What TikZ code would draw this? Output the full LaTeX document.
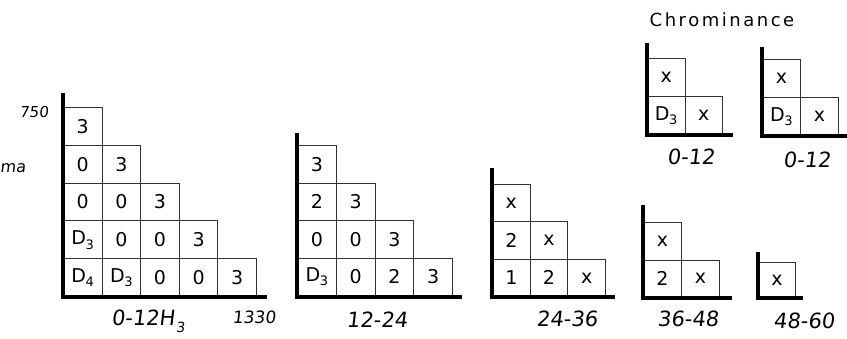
\documentclass[tikz,border=0pt]{standalone}
\usepackage{fontspec}
\newfontfamily\hand[FakeSlant=0.12]{DejaVu Sans}
\newfontfamily\handup{DejaVu Sans}
\newfontfamily\handsp[LetterSpace=14]{DejaVu Sans}
\newcommand\Dn[1]{D\kern-0.02em\raisebox{-0.45ex}{\fontsize{13}{13}\selectfont #1}}
\tikzset{
  cell/.style={draw=black!80, line width=0.9pt, anchor=south west, inner sep=0pt,
    font=\handup\fontsize{19}{19}\selectfont},
  axis/.style={line width=3.5pt, line join=miter},
  lbl/.style={font=\hand\fontsize{21}{21}\selectfont, inner sep=0pt},
  small/.style={font=\hand\fontsize{15}{15}\selectfont, inner sep=0pt}
}
\begin{document}
\begin{tikzpicture}[x=1pt,y=-1pt]
\useasboundingbox (0,0) rectangle (847,339);

% ---- chart 1 : 0-12 H3
\foreach \r/\c/\t in {1/1/3, 2/1/0, 2/2/3, 3/1/0, 3/2/0, 3/3/3,
  4/1/{\Dn{3}}, 4/2/0, 4/3/0, 4/4/3,
  5/1/{\Dn{4}}, 5/2/{\Dn{3}}, 5/3/0, 5/4/0, 5/5/3}
  \node[cell, minimum width=38.6pt, minimum height=37.8pt] (a-\r-\c)
    at ({63+(\c-1)*38.6},{297-(5-\r)*37.8}) {\t};
\coordinate (a-top) at (63,93);
\coordinate (a-end) at (267,297);
\draw[axis] (a-top) |- (a-end);
\node[small] (a750) at (34,112) {750};
\node[small, anchor=west, font=\hand\fontsize{16}{16}\selectfont] (ama) at (0,168) {ma};
\node[lbl] (alab) at (148,321) {0-12H\kern1pt\raisebox{-0.6ex}{\fontsize{14}{14}\selectfont 3}};
\node[small, font=\hand\fontsize{17}{17}\selectfont] (a1330) at (254,317) {1330};

% ---- chart 2 : 12-24
\foreach \r/\c/\t in {1/1/3, 2/1/2, 2/2/3, 3/1/0, 3/2/0, 3/3/3,
  4/1/{\Dn{3}}, 4/2/0, 4/3/2, 4/4/3}
  \node[cell, minimum width=38.75pt, minimum height=37.5pt] (b-\r-\c)
    at ({297+(\c-1)*38.75},{296-(4-\r)*37.5}) {\t};
\coordinate (b-top) at (297,133);
\coordinate (b-end) at (462,297);
\draw[axis] (b-top) |- (b-end);
\node[lbl] (blab) at (377,320) {12-24};

% ---- chart 3 : 24-36
\foreach \r/\c/\t in {1/1/x, 2/1/2, 2/2/x, 3/1/1, 3/2/2, 3/3/x}
  \node[cell, minimum width=37.7pt, minimum height=37.3pt] (c-\r-\c)
    at ({492+(\c-1)*37.7},{297-(3-\r)*37.3}) {\t};
\coordinate (c-top) at (492,168);
\coordinate (c-end) at (615,297);
\draw[axis] (c-top) |- (c-end);
\node[lbl] (clab) at (567,319) {24-36};

% ---- chrominance A : 0-12
\node[font=\handsp\fontsize{18}{18}\selectfont, inner sep=0pt] (chr) at (722,20) {Chrominance};
\foreach \r/\c/\t in {1/1/x, 2/1/{\Dn{3}}, 2/2/x}
  \node[cell, minimum width=37.5pt, minimum height=38pt] (d-\r-\c)
    at ({647+(\c-1)*37.5},{135-(2-\r)*38}) {\t};
\coordinate (d-top) at (647,43);
\coordinate (d-end) at (733,135);
\draw[axis] (d-top) |- (d-end);
\node[lbl] (dlab) at (691,157) {0-12};

% ---- chrominance B : 0-12
\foreach \r/\c/\t in {1/1/x, 2/1/{\Dn{3}}, 2/2/x}
  \node[cell, minimum width=38pt, minimum height=38pt] (e-\r-\c)
    at ({762+(\c-1)*38},{136-(2-\r)*38}) {\t};
\coordinate (e-top) at (762,47);
\coordinate (e-end) at (852,136);
\draw[axis] (e-top) |- (e-end);
\node[lbl] (elab) at (807,160) {0-12};

% ---- chart 36-48
\foreach \r/\c/\t in {1/1/x, 2/1/2, 2/2/x}
  \node[cell, minimum width=38pt, minimum height=37.5pt] (f-\r-\c)
    at ({643+(\c-1)*38},{298-(2-\r)*37.5}) {\t};
\coordinate (f-top) at (643,205);
\coordinate (f-end) at (732,298);
\draw[axis] (f-top) |- (f-end);
\node[lbl] (flab) at (688,319) {36-48};

% ---- chart 48-60
\node[cell, minimum width=37pt, minimum height=35pt] (g-1-1) at (758,298) {x};
\coordinate (g-top) at (758,252);
\coordinate (g-end) at (803,298);
\draw[axis] (g-top) |- (g-end);
\node[lbl] (glab) at (804,321) {48-60};
\end{tikzpicture}
\end{document}
